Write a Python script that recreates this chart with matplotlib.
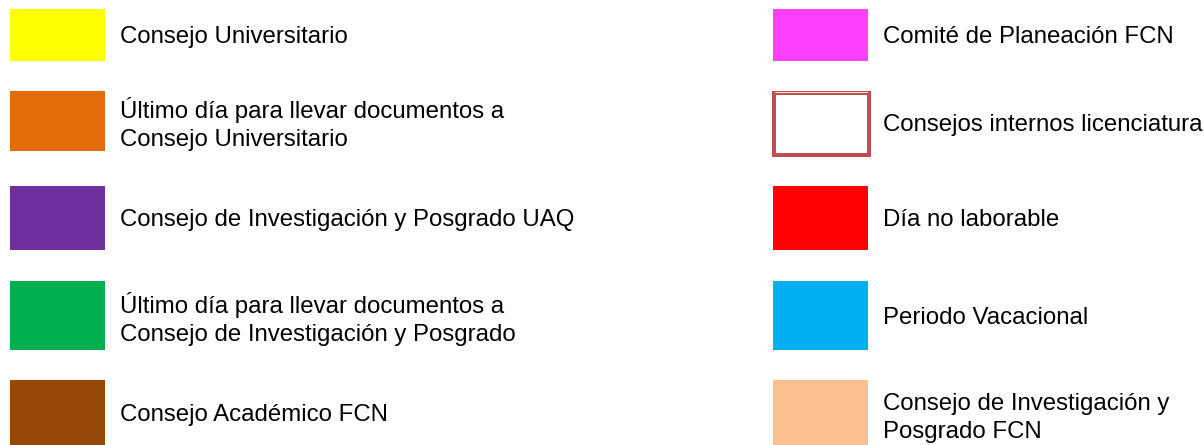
import matplotlib
matplotlib.use("Agg")
import matplotlib.pyplot as plt
from matplotlib.patches import Rectangle

# ---- legend content ----
left_labels = [
    "Consejo Universitario",
    "Último día para llevar documentos a\nConsejo Universitario",
    "Consejo de Investigación y Posgrado UAQ",
    "Último día para llevar documentos a\nConsejo de Investigación y Posgrado",
    "Consejo Académico FCN",
]
left_colors = ["#FFFF00", "#E36C0A", "#7030A0", "#00B050", "#984806"]

right_labels = [
    "Comité de Planeación FCN",
    "Consejos internos licenciatura",
    "Día no laborable",
    "Periodo Vacacional",
    "Consejo de Investigación y\nPosgrado FCN",
]
right_colors = ["#FF40FF", None, "#FF0000", "#00B0F0", "#FAC090"]
outline_color = "#C0504D"

# ---- layout (pixels) ----
W, H = 1204, 445
rows_top = [9, 91, 186, 281, 380]
rows_bot = [61, 151, 250, 350, 446]
col_x = [10, 773]
sw_w = 95
text_x = [120, 883]
fs = 17.3
line_gap = 28

fig = plt.figure(figsize=(W / 100, H / 100), dpi=100)
ax = fig.add_axes([0, 0, 1, 1])
ax.set_xlim(0, W)
ax.set_ylim(H, 0)
ax.axis("off")

font = ["Liberation Sans", "DejaVu Sans"]


def draw_label(x, center, label):
    lines = label.split("\n")
    if len(lines) == 1:
        ax.text(x, center + 8, lines[0], fontsize=fs, family=font,
                va="baseline", ha="left", color="black")
    else:
        first = center - 3
        for i, ln in enumerate(lines):
            ax.text(x, first + i * line_gap, ln, fontsize=fs, family=font,
                    va="baseline", ha="left", color="black")


for col, (labels, colors) in enumerate([(left_labels, left_colors),
                                         (right_labels, right_colors)]):
    for i, (lab, c) in enumerate(zip(labels, colors)):
        top, bot = rows_top[i], rows_bot[i]
        x0 = col_x[col]
        if c is None:
            # outlined box
            ax.add_patch(Rectangle((x0 + 0.5, top + 2), sw_w, bot + 2 - top,
                                   facecolor="white", edgecolor=outline_color,
                                   linewidth=2.9))
            ax.plot([x0 + 2, x0 + sw_w - 1], [top + 1.2, top + 1.2],
                    color="white", lw=0.6)
            center = (top + bot + 4) / 2
        else:
            ax.add_patch(Rectangle((x0, top), sw_w, bot - top,
                                   facecolor=c, edgecolor="none"))
            center = (top + bot) / 2
        draw_label(text_x[col], center, lab)

fig.savefig("out.png", dpi=100, facecolor="white")
